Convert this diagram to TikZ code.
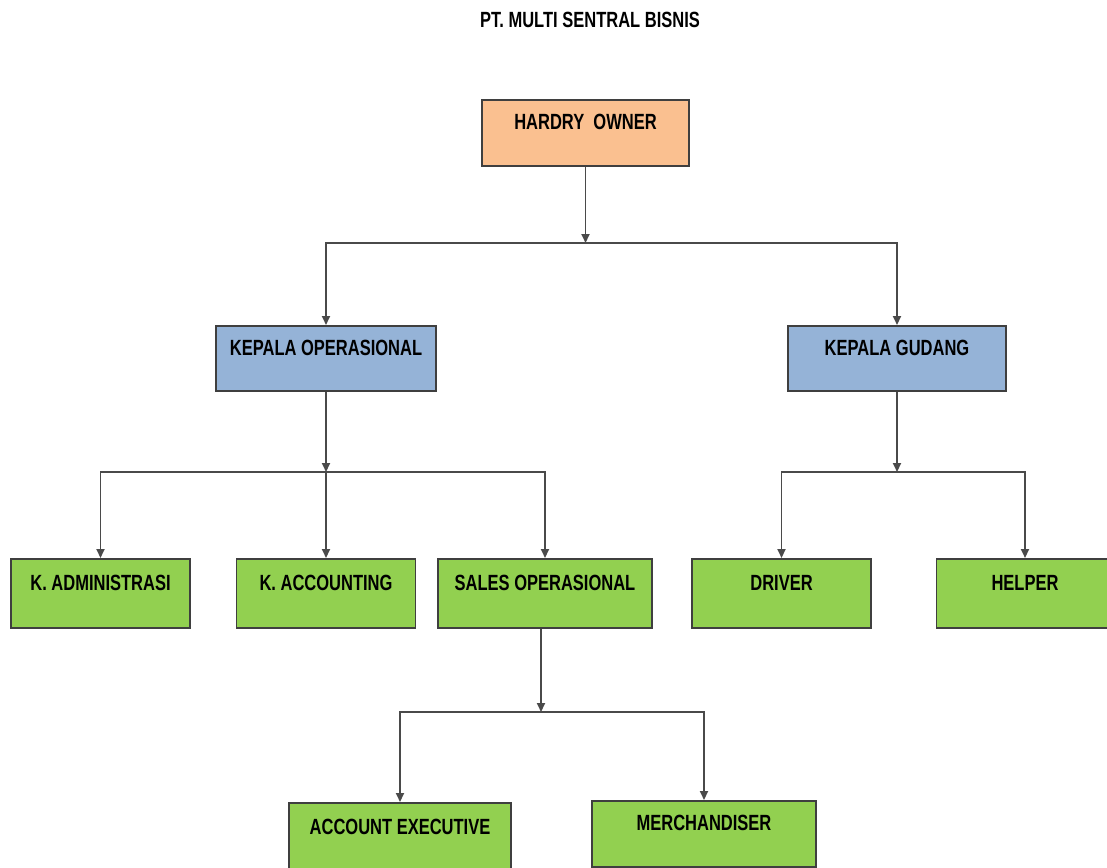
\documentclass[tikz,border=0pt]{standalone}
\usepackage{fontspec}
\newfontfamily\orgfont{Liberation Sans}[FakeStretch=0.75]
\usetikzlibrary{arrows.meta}

\definecolor{ownerfill}{HTML}{FAC090}
\definecolor{headfill}{HTML}{95B3D7}
\definecolor{staffill}{HTML}{92D050}
\definecolor{boxline}{HTML}{3F3F3F}
\definecolor{wire}{HTML}{4A4A4A}

\begin{document}
\begin{tikzpicture}[
  x=1pt, y=-1pt,
  label/.style={font=\orgfont\bfseries\fontsize{22}{24}\selectfont},
  box/.style={label, draw=boxline, line width=1.8pt, anchor=north, inner xsep=0pt,
    inner ysep=0pt, text height=30pt, text depth=36pt, minimum width=179pt},
  tall/.style={text height=32pt, text depth=37pt},
  flow/.style={-{Triangle[length=9pt, width=8pt]}, draw=wire, line width=1.9pt}
]
\path[use as bounding box, fill=white] (0,0) rectangle (1107,867);

\node[label] (title) at (590,20) {PT. MULTI SENTRAL BISNIS};

\node[box, fill=ownerfill, minimum width=207pt] (owner) at (585.5,99) {HARDRY\ \ OWNER};
\node[box, fill=headfill, minimum width=220pt, text depth=35pt] (operasional) at (326,325) {KEPALA OPERASIONAL};
\node[box, fill=headfill, minimum width=218pt, text depth=35pt] (gudang) at (897,325) {KEPALA GUDANG};

\node[box, tall, fill=staffill] (admin) at (100.5,558) {K. ADMINISTRASI};
\node[box, tall, fill=staffill] (accounting) at (326,558) {K. ACCOUNTING};
\node[box, tall, fill=staffill, minimum width=214pt] (sales) at (545,558) {SALES OPERASIONAL};
\node[box, tall, fill=staffill] (driver) at (781.5,558) {DRIVER};
\node[box, tall, fill=staffill, minimum width=177pt] (helper) at (1025,558) {HELPER};

\node[box, tall, fill=staffill, minimum width=222pt] (executive) at (400,802) {ACCOUNT EXECUTIVE};
\node[box, fill=staffill, minimum width=224pt] (merchandiser) at (704,800) {MERCHANDISER};

\coordinate (ownerbus) at (585.5,243);
\coordinate (operbus) at (326,472);
\coordinate (gudangbus) at (897,472);
\coordinate (salesbus) at (541,712);

\draw[flow] (owner) -- (ownerbus);
\draw[flow] (ownerbus) -| (operasional);
\draw[flow] (ownerbus) -| (gudang);

\draw[flow] (operasional) -- (operbus);
\draw[flow] (operbus) -| (admin);
\draw[flow] (operbus) -- (accounting);
\draw[flow] (operbus) -| (sales);

\draw[flow] (gudang) -- (gudangbus);
\draw[flow] (gudangbus) -| (driver);
\draw[flow] (gudangbus) -| (helper);

\draw[flow] (sales.south -| salesbus) -- (salesbus);
\draw[flow] (salesbus) -| (executive);
\draw[flow] (salesbus) -| (merchandiser);
\end{tikzpicture}
\end{document}
